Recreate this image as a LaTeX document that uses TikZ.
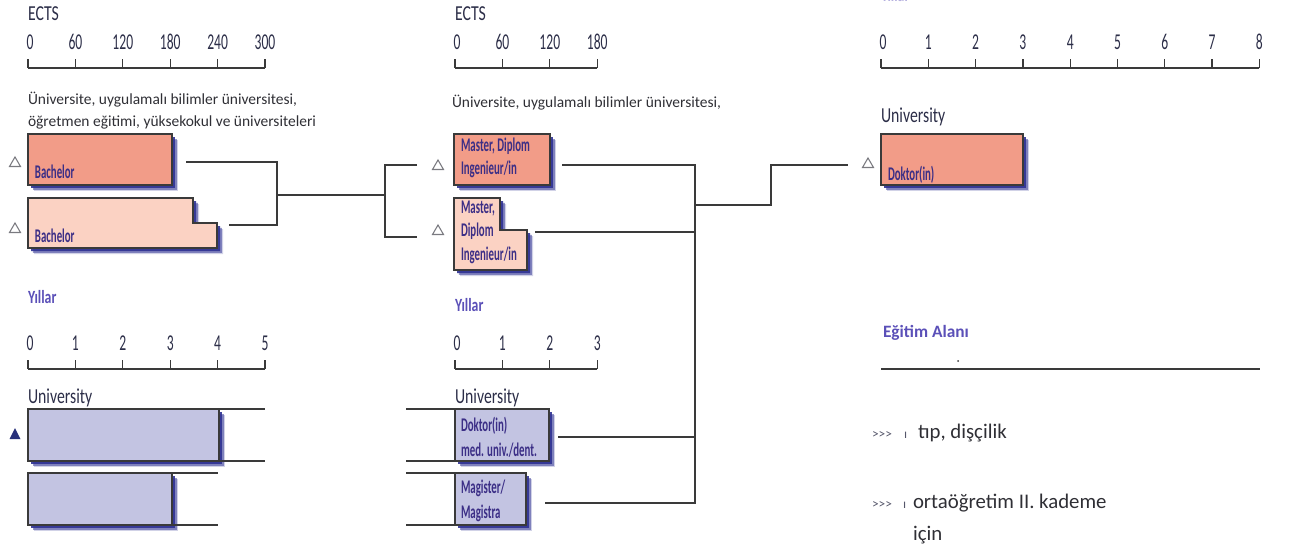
\documentclass[tikz,border=0pt]{standalone}
\usepackage{fontspec}
\setmainfont{Carlito}
\newfontfamily\condf[FakeStretch=0.74]{Carlito}
\newfontfamily\numf[FakeStretch=0.6]{Carlito}
\newfontfamily\boxf[FakeStretch=0.56]{Carlito}
\usetikzlibrary{shadows}
\definecolor{salmonc}{HTML}{F29C88}
\definecolor{lsalmonc}{HTML}{FBD2C3}
\definecolor{lavc}{HTML}{C3C4E2}
\definecolor{shadc}{HTML}{2E3192}
\definecolor{linec}{HTML}{3A3A3A}
\definecolor{boxtxt}{HTML}{3B2E86}
\definecolor{headc}{HTML}{2C2E48}
\definecolor{yilc}{HTML}{5B50B8}
\definecolor{trigc}{HTML}{7A7A80}
\definecolor{navyc}{HTML}{27307A}
\definecolor{bodyc}{HTML}{2F2F35}
\definecolor{arrc}{HTML}{55566A}
\tikzset{
  ax/.style={draw=linec, line width=1pt},
  conn/.style={draw=linec, line width=1.1pt},
  txt/.style={inner sep=0pt, outer sep=0pt, anchor=base west},
  head/.style={txt, font=\condf\fontsize{16}{16}\selectfont, text=headc},
  num/.style={inner sep=0pt, outer sep=0pt, anchor=base, font=\numf\fontsize{17}{17}\selectfont, text=headc},
  inst/.style={txt, font=\fontsize{11.6}{11.6}\selectfont, text=bodyc},
  yil/.style={txt, font=\condf\bfseries\fontsize{14}{14}\selectfont, text=yilc},
  blab/.style={txt, font=\boxf\bfseries\fontsize{14.5}{14.5}\selectfont, text=boxtxt},
  shad/.style={drop shadow={shadow xshift=4.6pt, shadow yshift=-4.6pt, fill=shadc, opacity=.22},
               drop shadow={shadow xshift=3.6pt, shadow yshift=-3.6pt, fill=shadc, opacity=.5},
               drop shadow={shadow xshift=2.4pt, shadow yshift=-2.4pt, fill=shadc, opacity=.9}},
  boxline/.style={draw=linec, line width=0.8pt},
  boxn/.style={boxline, inner sep=0pt, outer sep=0pt, anchor=north west, shad},
  otrip/.pic={\draw[draw=trigc, line width=0.8pt] (-5.5,4.5) -- (0,-5) -- (5.5,4.5) -- cycle;},
  ftrip/.pic={\fill[navyc] (-5.5,5) -- (0,-6) -- (5.5,5) -- cycle;},
  big/.style={txt, font=\fontsize{15.6}{15.6}\selectfont, text=bodyc},
  arr/.style={txt, font=\fontsize{10}{10}\selectfont, text=arrc},
}
\begin{document}
\begin{tikzpicture}[x=0.75pt,y=-0.75pt]
\useasboundingbox (0,0) rectangle (1290,553);

% ================= LEFT COLUMN =================
\node[head] (ectsA) at (28,21) {ECTS};
\foreach \i/\t in {0/0,1/60,2/120,3/180,4/240,5/300}{
  \node[num] (sa\i) at ({28+47.4*\i+(\i==0?2:0)},50) {\t};
  \draw[ax] ({28+47.4*\i},59) -- ({28+47.4*\i},68);
}
\draw[ax] (28,68) -- (265,68);
\node[inst] (instA1) at (28,104) {Üniversite, uygulamalı bilimler üniversitesi,};
\node[inst] (instA2) at (28,126) {öğretmen eğitimi, yüksekokul ve üniversiteleri};

% Bachelor 1
\node[boxn, fill=salmonc, minimum width=108pt, minimum height=38.25pt] (bach1) at (28,134) {};
\node[blab] (bach1l) at (35,178) {Bachelor};
\pic at (15,162) {otrip};
% Bachelor 2 (notched)
\draw[boxline, fill=lsalmonc, shad] (28,198) -- (193,198) -- (193,223) -- (217,223) -- (217,248) -- (28,248) -- cycle;
\node[blab] (bach2l) at (35,242) {Bachelor};
\pic at (15,228) {otrip};

% connector bachelors -> masters
\coordinate (cb1) at (186,162);
\coordinate (cb2) at (229,225);
\coordinate (cj1) at (277,195);
\coordinate (cj2) at (385,195);
\coordinate (cm1) at (417,165);
\coordinate (cm2) at (417,237);
\draw[conn] (cb1) -| (cj1 |- cb2) -- (cb2);
\draw[conn] (cj1) -- (cj2);
\draw[conn] (cm1) -| (cj2 |- cm2) -- (cm2);

% Years left
\node[yil] (yilA) at (28,303) {Yıllar};
\foreach \i in {0,...,5}{
  \node[num] (ya\i) at ({28+47.4*\i+(\i==0?2:0)},350) {\i};
  \draw[ax] ({28+47.4*\i},360) -- ({28+47.4*\i},369);
}
\draw[ax] (28,369) -- (265,369);
\node[head] (univA) at (28,403) {University};

\node[boxn, fill=lavc, minimum width=143.25pt, minimum height=39pt] (ua1) at (28,409) {};
\node[boxn, fill=lavc, minimum width=108pt, minimum height=39pt] (ua2) at (28,473) {};
\draw[boxline] (28,409) -- (265,409);
\draw[boxline] (219,461) -- (265,461);
\draw[boxline] (28,473) -- (218,473);
\draw[boxline] (172,525) -- (218,525);
\pic at (15,434) {ftrip};

% ================= MIDDLE COLUMN =================
\node[head] (ectsB) at (455,21) {ECTS};
\foreach \i/\t in {0/0,1/60,2/120,3/180}{
  \node[num] (sb\i) at ({455+47.4*\i+(\i==0?2:0)},50) {\t};
  \draw[ax] ({455+47.4*\i},59) -- ({455+47.4*\i},68);
}
\draw[ax] (455,68) -- (597,68);
\node[inst] (instB) at (452,107) {Üniversite, uygulamalı bilimler üniversitesi,};

% Master 1
\node[boxn, fill=salmonc, minimum width=72pt, minimum height=38.25pt] (mas1) at (454,134) {};
\node[blab] (mas1a) at (461,151) {Master, Diplom};
\node[blab] (mas1b) at (461,174) {Ingenieur/in};
\pic at (438,165) {otrip};
% Master 2 (notched)
\draw[boxline, fill=lsalmonc, shad] (454,198) -- (500,198) -- (500,230) -- (527,230) -- (527,270) -- (454,270) -- cycle;
\node[blab] (mas2a) at (461,213) {Master,};
\node[blab] (mas2b) at (461,236) {Diplom};
\node[blab] (mas2c) at (461,260) {Ingenieur/in};
\pic at (438,230) {otrip};

% Years middle
\node[yil] (yilB) at (455,311) {Yıllar};
\foreach \i in {0,...,3}{
  \node[num] (yb\i) at ({455+47.4*\i+(\i==0?2:0)},350) {\i};
  \draw[ax] ({455+47.4*\i},360) -- ({455+47.4*\i},369);
}
\draw[ax] (455,369) -- (597,369);
\node[head] (univB) at (455,403) {University};

\node[boxn, fill=lavc, minimum width=70.5pt, minimum height=39pt] (dok1) at (455,409) {};
\node[boxn, fill=lavc, minimum width=53.25pt, minimum height=39pt] (mag1) at (455,473) {};
\draw[boxline] (406,409) -- (549,409);
\draw[boxline] (406,461) -- (455,461);
\draw[boxline] (406,473) -- (526,473);
\draw[boxline] (406,525) -- (455,525);
\node[blab] (dok1a) at (461,431) {Doktor(in)};
\node[blab] (dok1b) at (461,456) {med. univ./dent.};
\node[blab] (mag1a) at (461,493) {Magister/};
\node[blab] (mag1b) at (461,518) {Magistra};

% connector right of middle column
\coordinate (r1) at (562,165);
\coordinate (r2) at (535,232);
\coordinate (r3) at (558,437);
\coordinate (r4) at (545,503);
\coordinate (vt) at (695,165);
\coordinate (vb) at (695,503);
\coordinate (vm) at (695,205);
\coordinate (k1) at (771,205);
\coordinate (dk) at (848,165);
\draw[conn] (r1) -- (vt) -- (vb) -- (r4);
\draw[conn] (r2) -- (r2 -| vt);
\draw[conn] (r3) -- (r3 -| vt);
\draw[conn] (vm) -- (k1) |- (dk);

% ================= RIGHT COLUMN =================
\node[yil, text=yilc!45] (yilC) at (881,2) {Yıllar};
\foreach \i in {0,...,8}{
  \node[num] (sc\i) at ({881+47.3*\i+(\i==0?2:0)},50) {\i};
  \draw[ax] ({881+47.3*\i},59) -- ({881+47.3*\i},68);
}
\draw[ax] (881,68) -- (1259,68);
\node[head] (univC) at (881,122) {University};
\node[boxn, fill=salmonc, minimum width=106.5pt, minimum height=38.25pt] (dokC) at (881,134) {};
\node[blab] (dokCl) at (888,180) {Doktor(in)};
\pic at (868,163) {otrip};

\node[txt, font=\bfseries\fontsize{13}{13}\selectfont, text=yilc] (egit) at (883,337) {Eğitim Alanı};
\fill[linec] (958,361) circle (1);
\draw[ax] (881,369) -- (1260,369);

\node[arr] (a1) at (872,438) {>{}>{}>};
\node[arr] (a1b) at (904,438) {ı};
\node[big] (tip) at (918,438) {tıp, dişçilik};
\node[arr] (a2) at (872,508) {>{}>{}>};
\node[arr] (a2b) at (903,508) {ı};
\node[big] (orta) at (913,508) {ortaöğretim II. kademe};
\node[big] (icin) at (913,540) {için};
\end{tikzpicture}
\end{document}
